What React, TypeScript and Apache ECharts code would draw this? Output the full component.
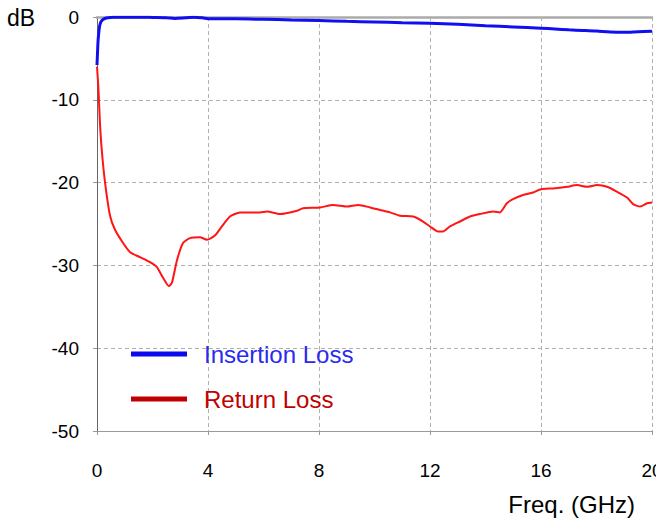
import React, { useEffect, useRef } from "react";
import * as echarts from "echarts";

const xTicks = [0, 4, 8, 12, 16, 20];
const yTicks = [0, -10, -20, -30, -40, -50];

const ilFreq = [0, 0.02, 0.04, 0.07, 0.1, 0.14, 0.2, 0.28, 0.4, 0.6, 1, 1.5, 2, 2.5, 2.8, 3.2, 3.5, 3.8, 4, 5, 6, 7, 8, 9, 10, 11, 12, 13, 14, 15, 16, 16.5, 17, 17.5, 18, 18.5, 19, 19.5, 20];
const ilDb = [-5.8, -4.2, -2.8, -1.7, -1.0, -0.6, -0.35, -0.18, -0.08, -0.04, -0.03, -0.03, -0.05, -0.08, -0.18, -0.1, -0.02, -0.1, -0.2, -0.22, -0.28, -0.35, -0.42, -0.52, -0.6, -0.68, -0.75, -0.88, -1.05, -1.2, -1.35, -1.45, -1.55, -1.62, -1.7, -1.82, -1.85, -1.78, -1.72];

const rlFreq = [0, 0.04, 0.07, 0.11, 0.17, 0.29, 0.47, 0.65, 0.94, 1.19, 1.55, 1.91, 2.16, 2.38, 2.59, 2.7, 2.88, 3.1, 3.35, 3.71, 3.96, 4.25, 4.5, 4.79, 5.15, 5.87, 6.13, 6.59, 7.21, 7.42, 8.04, 8.5, 9.01, 9.41, 9.84, 10.2, 10.56, 10.92, 11.39, 11.75, 12.0, 12.29, 12.47, 12.72, 13.08, 13.44, 13.8, 14.27, 14.52, 14.77, 14.99, 15.35, 15.71, 16.0, 16.43, 16.94, 17.3, 17.66, 18.02, 18.38, 18.74, 19.1, 19.32, 19.57, 19.82, 20];
const rlDb = [-6, -8, -10, -13, -16, -20, -24, -25.7, -27.3, -28.4, -29, -29.6, -30.2, -31.5, -32.5, -32.1, -29.4, -27.3, -26.7, -26.6, -26.9, -26.4, -25.3, -24.1, -23.6, -23.6, -23.5, -23.8, -23.4, -23.1, -23.0, -22.7, -22.9, -22.7, -23.0, -23.3, -23.6, -24.0, -24.1, -24.7, -25.3, -25.9, -25.9, -25.3, -24.7, -24.1, -23.8, -23.5, -23.6, -22.5, -22.0, -21.5, -21.2, -20.8, -20.7, -20.5, -20.3, -20.5, -20.3, -20.5, -21.1, -21.8, -22.6, -22.9, -22.5, -22.4];

const legendNames = ["Insertion Loss", "Return Loss"];
const legendColors = ["#0a0aee", "#c00000"];
const legendTextColors = ["#2a2af0", "#c00000"];

const FONT = "Liberation Sans, Arial, sans-serif";

export default function App() {
  const ref = useRef<HTMLDivElement>(null);
  useEffect(() => {
    if (!ref.current) return;
    const chart = echarts.init(ref.current, null, { renderer: "svg" });
    const legendY = [354, 399];
    chart.setOption({
      animation: false,
      backgroundColor: "#ffffff",
      textStyle: { fontFamily: FONT },
      grid: { left: 97, right: 4, top: 17, bottom: 90, containLabel: false, outerBoundsMode: "none" },
      xAxis: [
        {
          type: "value",
          min: 0,
          max: 20,
          interval: 4,
          position: "bottom",
          axisLine: { show: true, onZero: false, lineStyle: { color: "#999999", width: 1 } },
          axisTick: { show: true, length: 4, lineStyle: { color: "#999999" } },
          axisLabel: { color: "#000", fontSize: 19, fontFamily: FONT, margin: 30, showMaxLabel: true, hideOverlap: false },
          splitLine: { show: true, lineStyle: { color: "#b0b0b0", type: [4, 3], width: 1 } },
          data: xTicks,
        },
        {
          type: "value",
          min: 0,
          max: 20,
          position: "top",
          axisLine: { show: true, lineStyle: { color: "#aaaaaa", width: 2.5 } },
          axisTick: { show: false },
          axisLabel: { show: false },
          splitLine: { show: false },
        },
      ],
      yAxis: {
        type: "value",
        min: -50,
        max: 0,
        interval: 10,
        axisLine: { show: true, onZero: false, lineStyle: { color: "#666666", width: 1 } },
        axisTick: { show: true, length: 4, lineStyle: { color: "#999999" } },
        axisLabel: { color: "#000", fontSize: 19, fontFamily: FONT, margin: 18 },
        splitLine: { show: true, lineStyle: { color: "#b0b0b0", type: [4, 3], width: 1 } },
        data: yTicks,
      },
      series: [
        {
          name: legendNames[0],
          type: "line",
          showSymbol: false,
          smooth: 0.3,
          data: ilFreq.map((f, i) => [f, ilDb[i]]),
          lineStyle: { color: "#0f0ff0", width: 3 },
          itemStyle: { color: "#0f0ff0" },
          z: 3,
        },
        {
          name: legendNames[1],
          type: "line",
          showSymbol: false,
          smooth: 0.2,
          data: rlFreq.map((f, i) => [f, rlDb[i]]),
          lineStyle: { color: "#ff1515", width: 2 },
          itemStyle: { color: "#ff1515" },
          z: 2,
        },
      ],
      graphic: [
        {
          type: "text",
          left: 7,
          top: 6,
          style: { text: "dB", fontSize: 23, fontFamily: FONT, fill: "#000" },
        },
        {
          type: "text",
          right: 21,
          top: 492,
          style: { text: "Freq. (GHz)", fontSize: 24, fontFamily: FONT, fill: "#000" },
        },
        ...legendNames.flatMap((n, i) => [
          {
            type: "line",
            shape: { x1: 131, y1: legendY[i], x2: 187, y2: legendY[i] },
            style: { stroke: legendColors[i], lineWidth: 5 },
            z: 10,
          },
          {
            type: "text",
            x: 204,
            y: legendY[i],
            style: {
              text: n,
              fontSize: 24,
              fontFamily: FONT,
              fill: legendTextColors[i],
              verticalAlign: "middle",
              textVerticalAlign: "middle",
            },
            z: 10,
          },
        ]),
      ],
    });
    return () => chart.dispose();
  }, []);
  return (
    <div
      ref={ref}
      style={{ position: "fixed", left: 0, top: 0, width: 656, height: 521 }}
    />
  );
}
